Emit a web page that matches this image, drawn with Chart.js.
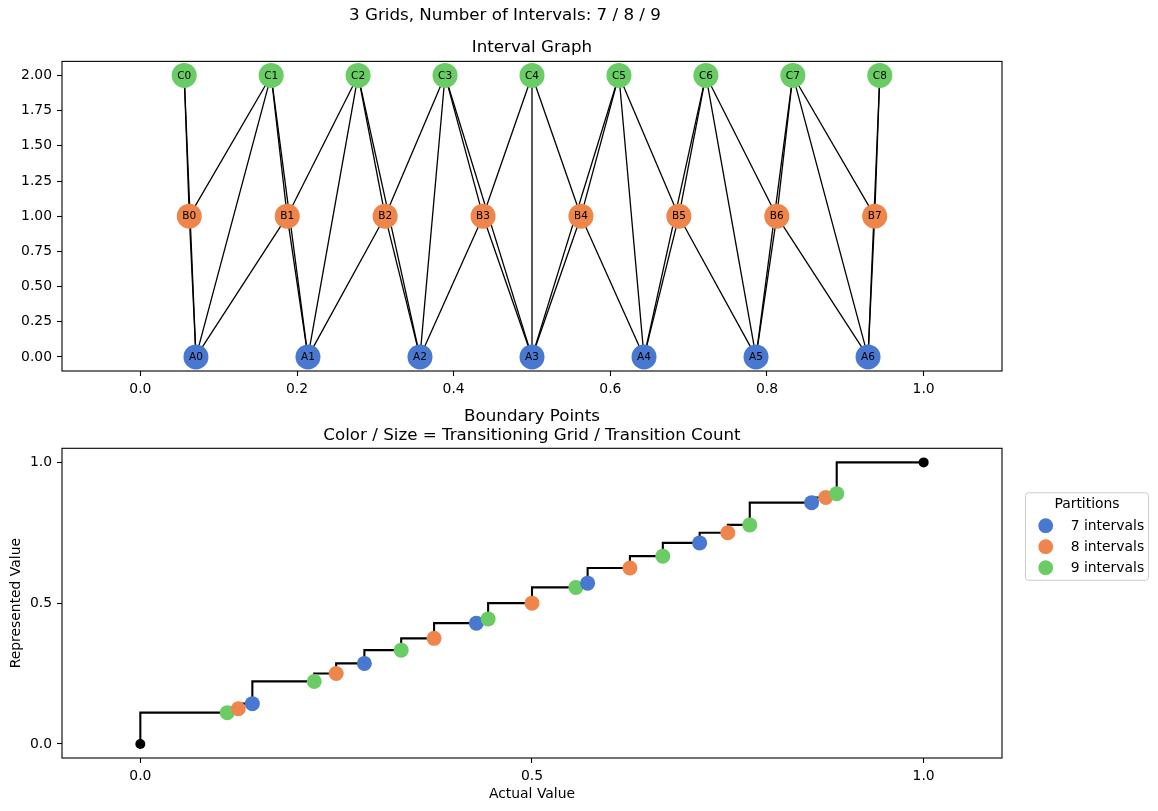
<!DOCTYPE html>
<html><head><meta charset="utf-8">
<script src="https://cdn.jsdelivr.net/npm/chart.js@4.4.1/dist/chart.umd.min.js"></script>
<style>
html,body{margin:0;padding:0;background:#fff;}
#c1{position:absolute;left:0;top:0;}
#c2{position:absolute;left:0;top:400px;}
</style></head><body>
<canvas id="c1" width="1158" height="400"></canvas>
<canvas id="c2" width="1158" height="411"></canvas>
<script>
// ---------- text ----------
const suptitle = '3 Grids, Number of Intervals: 7 / 8 / 9';
const topTitle = 'Interval Graph';
const bottomTitle = ['Boundary Points', 'Color / Size = Transitioning Grid / Transition Count'];
const xAxisTitle = 'Actual Value';
const yAxisTitle = 'Represented Value';
const legendTitle = 'Partitions';

// ---------- interval graph data ----------
const gridNames = ['A', 'B', 'C'];
const gridIntervals = [7, 8, 9];
const gridLevels = [0, 1, 2];
const nodeXA = [0.071, 0.214, 0.357, 0.5, 0.643, 0.786, 0.929];
const nodeXB = [0.0625, 0.1875, 0.3125, 0.4375, 0.5625, 0.6875, 0.8125, 0.9375];
const nodeXC = [0.056, 0.167, 0.278, 0.389, 0.5, 0.611, 0.722, 0.833, 0.944];
const edges = [
  ['A0','B0'],['A0','B1'],['A1','B1'],['A1','B2'],['A2','B2'],['A2','B3'],['A3','B3'],
  ['A3','B4'],['A4','B4'],['A4','B5'],['A5','B5'],['A5','B6'],['A6','B6'],['A6','B7'],
  ['B0','C0'],['B0','C1'],['B1','C1'],['B1','C2'],['B2','C2'],['B2','C3'],['B3','C3'],['B3','C4'],
  ['B4','C4'],['B4','C5'],['B5','C5'],['B5','C6'],['B6','C6'],['B6','C7'],['B7','C7'],['B7','C8'],
  ['A0','C0'],['A0','C1'],['A1','C1'],['A1','C2'],['A2','C2'],['A2','C3'],['A3','C3'],['A3','C4'],
  ['A3','C5'],['A4','C5'],['A4','C6'],['A5','C6'],['A5','C7'],['A6','C7'],['A6','C8']
];
const topXTicks = [0, 0.2, 0.4, 0.6, 0.8, 1.0];
const topYTicks = [0, 0.25, 0.5, 0.75, 1.0, 1.25, 1.5, 1.75, 2.0];

// ---------- boundary points data ----------
const boundaryX = [0.111,0.125,0.143,0.222,0.25,0.286,0.333,0.375,0.429,0.444,0.5,0.556,0.571,0.625,0.667,0.714,0.75,0.778,0.857,0.875,0.889];
const boundaryY = [0.111,0.125,0.143,0.222,0.25,0.286,0.333,0.375,0.429,0.444,0.5,0.556,0.571,0.625,0.667,0.714,0.75,0.778,0.857,0.875,0.889];
const boundaryGrid = [9,8,7,9,8,7,9,8,7,9,8,9,7,8,9,7,8,9,7,8,9];
const boundaryCount = [1,1,1,1,1,1,1,1,1,1,1,1,1,1,1,1,1,1,1,1,1];
const endpointsX = [0, 1];
const endpointsY = [0, 1];
const bottomXTicks = [0, 0.5, 1.0];
const bottomYTicks = [0, 0.5, 1.0];

// ---------- styles ----------
const gridColors = {7: '#4878d0', 8: '#ee854a', 9: '#6acc64'};
const FONT = 'DejaVu Sans';
Chart.defaults.font.family = FONT;
Chart.defaults.font.size = 13.9;
Chart.defaults.color = '#000';

const frame = {
  id: 'frame',
  afterDraw(chart) {
    const {ctx, chartArea: a} = chart;
    ctx.save();
    ctx.strokeStyle = '#000';
    ctx.lineWidth = 1.1;
    ctx.strokeRect(a.left, a.top, a.right - a.left, a.bottom - a.top);
    ctx.restore();
  }
};

const nodeLabels = {
  id: 'nodeLabels',
  afterDatasetsDraw(chart) {
    const ctx = chart.ctx;
    ctx.save();
    ctx.font = '10.5px ' + FONT;
    ctx.fillStyle = '#000';
    ctx.textAlign = 'center';
    ctx.textBaseline = 'middle';
    chart.data.datasets.forEach((ds, i) => {
      if (!ds.nodeNames) return;
      chart.getDatasetMeta(i).data.forEach((pt, j) => {
        ctx.fillText(ds.nodeNames[j], pt.x, pt.y + 0.5);
      });
    });
    ctx.restore();
  }
};

function axisCommon(ticksArr, digits, size, isY) {
  return {
    type: 'linear',
    afterBuildTicks: s => { s.ticks = ticksArr.map(v => ({value: v})); },
    afterFit: s => { if (isY) s.width = size; else s.height = size; },
    ticks: { callback: v => Number(v).toFixed(digits), padding: 5, maxRotation: 0, autoSkip: false, font: {size: 13.9} },
    grid: { display: true, drawOnChartArea: false, drawTicks: true, tickLength: 5, tickWidth: 1.1, tickColor: '#000' },
    border: { display: false }
  };
}

// ---------- chart 1 ----------
const nodeXs = [nodeXA, nodeXB, nodeXC];
const nodePos = {};
gridNames.forEach((g, gi) => nodeXs[gi].forEach((x, i) => { nodePos[g + i] = {x: x, y: gridLevels[gi]}; }));

const edgeSets = edges.map(([p, q]) => ({
  data: [nodePos[p], nodePos[q]],
  showLine: true, borderColor: '#000', borderWidth: 1.3,
  pointRadius: 0, order: 5
}));
const nodeSets = gridNames.map((g, gi) => ({
  data: nodeXs[gi].map(x => ({x: x, y: gridLevels[gi]})),
  nodeNames: nodeXs[gi].map((_, i) => g + i),
  pointRadius: 12.5, pointBackgroundColor: gridColors[gridIntervals[gi]],
  pointBorderWidth: 0, order: 1
}));

const xs1 = axisCommon(topXTicks, 1, 29, false); xs1.min = -0.1; xs1.max = 1.1;
const ys1 = axisCommon(topYTicks, 2, 54, true); ys1.min = -0.1; ys1.max = 2.1;

new Chart(document.getElementById('c1'), {
  type: 'scatter',
  data: { datasets: [...edgeSets, ...nodeSets] },
  options: {
    responsive: false, animation: false, events: [],
    layout: { padding: {left: 8, right: 156, top: 0, bottom: 0} },
    plugins: {
      legend: {display: false}, tooltip: {enabled: false},
      title: { display: true, text: suptitle, font: {size: 16.7, weight: 'normal', lineHeight: 1.2}, padding: {top: 6, bottom: 4}, color: '#000' },
      subtitle: { display: true, text: topTitle, fullSize: false, font: {size: 16.7, weight: 'normal', lineHeight: 1.2}, padding: {top: 8, bottom: 3.3}, color: '#000' }
    },
    scales: { x: xs1, y: ys1 }
  },
  plugins: [frame, nodeLabels]
});

// ---------- chart 2 ----------
const boundaryPts = boundaryX.map((x, i) => ({x: x, y: boundaryY[i]}));
const endPts = endpointsX.map((x, i) => ({x: x, y: endpointsY[i]}));
const stepPts = [endPts[0], ...boundaryPts, endPts[1]];

const legendBox = {
  id: 'legendBox',
  afterDraw(chart) {
    const {ctx, chartArea: a} = chart;
    const L = a.right + 23.5, T = a.top + 44.5, W = 123, H = 87.5;
    ctx.save();
    ctx.beginPath();
    ctx.roundRect(L, T, W, H, 3);
    ctx.fillStyle = 'rgba(255,255,255,0.8)';
    ctx.fill();
    ctx.strokeStyle = '#cccccc';
    ctx.lineWidth = 1;
    ctx.stroke();
    ctx.font = '13.9px ' + FONT;
    ctx.fillStyle = '#000';
    ctx.textBaseline = 'middle';
    ctx.textAlign = 'center';
    ctx.fillText(legendTitle, L + W / 2, a.top + 56);
    ctx.textAlign = 'left';
    gridIntervals.forEach((n, i) => {
      const y = a.top + 77.4 + i * 21;
      ctx.beginPath();
      ctx.arc(a.right + 43.7, y, 7.4, 0, Math.PI * 2);
      ctx.fillStyle = gridColors[n];
      ctx.fill();
      ctx.fillStyle = '#000';
      ctx.fillText(n + ' intervals', a.right + 68.7, y + 0.5);
    });
    ctx.restore();
  }
};

const xs2 = axisCommon(bottomXTicks, 1, 53, false); xs2.min = -0.1; xs2.max = 1.1;
xs2.title = { display: true, text: xAxisTitle, font: {size: 13.9, lineHeight: 1.2}, padding: {top: 0, bottom: 8.7}, color: '#000' };
const ys2 = axisCommon(bottomYTicks, 1, 62, true); ys2.min = -0.05; ys2.max = 1.05;
ys2.title = { display: true, text: yAxisTitle, font: {size: 13.9, lineHeight: 1.2}, padding: {top: 7.7, bottom: 0}, color: '#000' };

new Chart(document.getElementById('c2'), {
  type: 'scatter',
  data: { datasets: [
    { data: stepPts, showLine: true, stepped: 'after', borderColor: '#000', borderWidth: 2.1, pointRadius: 0, order: 5 },
    { data: endPts, pointRadius: 5, pointBackgroundColor: '#000', pointBorderWidth: 0, order: 2 },
    { data: boundaryPts, pointRadius: boundaryCount.map(c => 7.5 * Math.sqrt(c)),
      pointBackgroundColor: boundaryGrid.map(g => gridColors[g]), pointBorderWidth: 0, order: 1 }
  ]},
  options: {
    responsive: false, animation: false, events: [],
    layout: { padding: {left: 0, right: 156, top: 0, bottom: 0} },
    plugins: {
      legend: {display: false}, tooltip: {enabled: false},
      title: { display: true, text: bottomTitle, fullSize: false, font: {size: 16.7, weight: 'normal', lineHeight: '19px'}, padding: {top: 7.5, bottom: 2.8}, color: '#000' }
    },
    scales: { x: xs2, y: ys2 }
  },
  plugins: [frame, legendBox]
});
</script>
</body></html>
